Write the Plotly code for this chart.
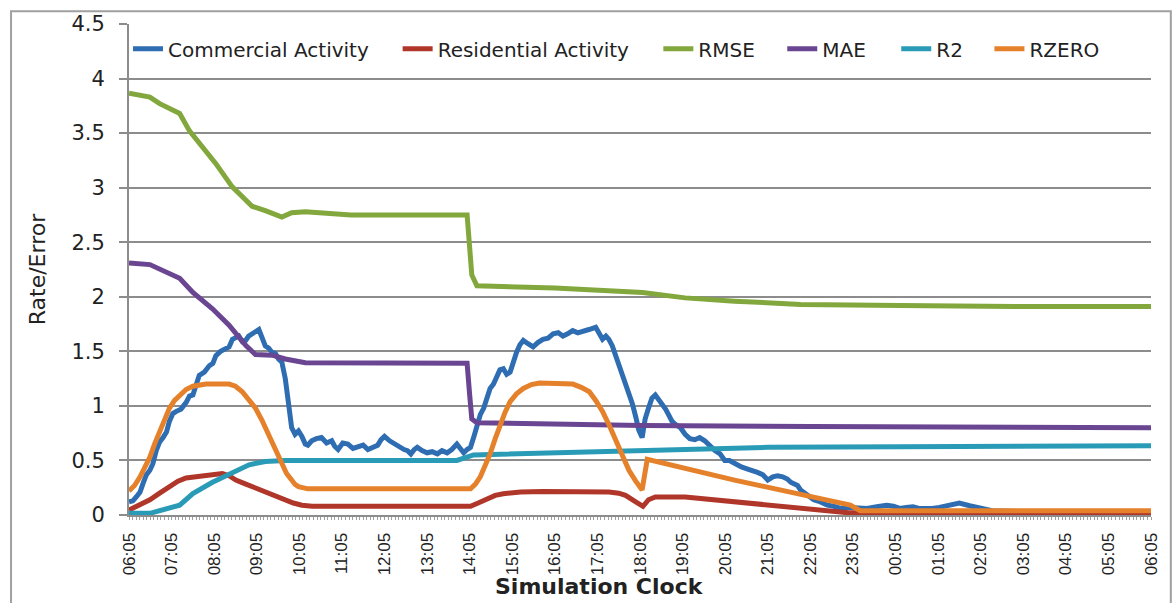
import plotly.graph_objects as go

# Hourly tick labels along the simulation clock (hours after 06:05)
hour_ticks = list(range(25))
hour_labels = ["06:05", "07:05", "08:05", "09:05", "10:05", "11:05", "12:05", "13:05",
               "14:05", "15:05", "16:05", "17:05", "18:05", "19:05", "20:05", "21:05",
               "22:05", "23:05", "00:05", "01:05", "02:05", "03:05", "04:05", "05:05", "06:05"]

y_ticks = [0, 0.5, 1, 1.5, 2, 2.5, 3, 3.5, 4, 4.5]
y_labels = ["0", "0.5", "1", "1.5", "2", "2.5", "3", "3.5", "4", "4.5"]

# Commercial Activity
commercial_t = [0.0, 0.09, 0.18, 0.26, 0.33, 0.41, 0.49, 0.56, 0.64, 0.72,
                0.8, 0.88, 0.95, 1.03, 1.11, 1.22, 1.34, 1.42, 1.5, 1.58,
                1.65, 1.77, 1.89, 1.97, 2.04, 2.15, 2.27, 2.35, 2.43, 2.5,
                2.58, 2.66, 2.74, 2.81, 2.89, 2.97, 3.05, 3.12, 3.2, 3.28,
                3.36, 3.44, 3.51, 3.59, 3.67, 3.75, 3.82, 3.9, 3.98, 4.06,
                4.14, 4.2, 4.29, 4.4, 4.52, 4.64, 4.76, 4.83, 4.91, 5.02,
                5.14, 5.26, 5.38, 5.5, 5.61, 5.72, 5.84, 5.92, 6.0, 6.12,
                6.23, 6.35, 6.46, 6.54, 6.62, 6.7, 6.77, 6.88, 7.0, 7.12,
                7.24, 7.35, 7.47, 7.58, 7.7, 7.78, 7.86, 7.94, 8.02, 8.1,
                8.17, 8.25, 8.33, 8.4, 8.48, 8.56, 8.64, 8.71, 8.79, 8.87,
                8.95, 9.02, 9.1, 9.18, 9.26, 9.37, 9.49, 9.6, 9.72, 9.84,
                9.96, 10.08, 10.19, 10.3, 10.42, 10.54, 10.65, 10.8, 10.96, 11.04,
                11.12, 11.2, 11.27, 11.35, 11.43, 11.5, 11.58, 11.66, 11.74, 11.82,
                11.9, 11.97, 12.05, 12.12, 12.2, 12.28, 12.36, 12.44, 12.52, 12.6,
                12.67, 12.75, 12.83, 12.95, 13.06, 13.17, 13.29, 13.4, 13.52, 13.64,
                13.76, 13.88, 13.99, 14.1, 14.22, 14.38, 14.53, 14.65, 14.76, 14.88,
                15.0, 15.12, 15.23, 15.35, 15.46, 15.54, 15.62, 15.7, 15.77, 15.92,
                16.08, 16.24, 16.4, 16.55, 16.71, 16.85, 17.0, 17.16, 17.33, 17.56,
                17.79, 17.95, 18.1, 18.25, 18.41, 18.55, 18.7, 18.86, 19.03, 19.26,
                19.5, 19.74, 19.97, 20.12, 20.27, 21.0, 22.0, 23.0, 24.0]
commercial_v = [0.12, 0.13, 0.17, 0.21, 0.29, 0.37, 0.41, 0.47, 0.59, 0.67,
                0.71, 0.76, 0.86, 0.93, 0.95, 0.97, 1.03, 1.09, 1.10, 1.21,
                1.28, 1.31, 1.37, 1.39, 1.46, 1.50, 1.52, 1.54, 1.61, 1.63,
                1.64, 1.59, 1.60, 1.64, 1.66, 1.67, 1.70, 1.63, 1.55, 1.53,
                1.49, 1.48, 1.43, 1.40, 1.25, 1.01, 0.80, 0.74, 0.77, 0.72,
                0.65, 0.64, 0.68, 0.70, 0.71, 0.66, 0.68, 0.63, 0.60, 0.66,
                0.65, 0.61, 0.63, 0.64, 0.60, 0.62, 0.64, 0.69, 0.72, 0.68,
                0.65, 0.62, 0.60, 0.59, 0.56, 0.60, 0.62, 0.59, 0.57, 0.58,
                0.56, 0.59, 0.57, 0.60, 0.65, 0.61, 0.57, 0.60, 0.62, 0.72,
                0.83, 0.92, 0.98, 1.05, 1.16, 1.20, 1.28, 1.33, 1.34, 1.29,
                1.31, 1.40, 1.49, 1.56, 1.60, 1.57, 1.54, 1.58, 1.61, 1.62,
                1.66, 1.67, 1.64, 1.66, 1.69, 1.67, 1.68, 1.70, 1.72, 1.66,
                1.61, 1.64, 1.61, 1.55, 1.46, 1.39, 1.28, 1.22, 1.13, 1.02,
                0.90, 0.78, 0.71, 0.88, 0.98, 1.07, 1.10, 1.06, 1.01, 0.97,
                0.92, 0.86, 0.83, 0.80, 0.74, 0.70, 0.69, 0.71, 0.68, 0.63,
                0.59, 0.56, 0.50, 0.50, 0.47, 0.44, 0.42, 0.41, 0.39, 0.37,
                0.32, 0.35, 0.36, 0.35, 0.33, 0.30, 0.29, 0.27, 0.23, 0.18,
                0.14, 0.12, 0.09, 0.08, 0.06, 0.07, 0.07, 0.065, 0.06, 0.075,
                0.09, 0.08, 0.06, 0.07, 0.075, 0.06, 0.055, 0.06, 0.07, 0.09,
                0.11, 0.085, 0.065, 0.05, 0.04, 0.03, 0.03, 0.03, 0.03]

# Residential Activity
residential_t = [0, 0.25, 0.49, 0.72, 0.95, 1.15, 1.34, 1.6, 1.81, 2.0,
                 2.19, 2.35, 2.51, 2.7, 2.89, 3.08, 3.28, 3.47, 3.67, 3.86,
                 4.06, 4.3, 5.0, 6.0, 7.0, 8.02, 8.2, 8.4, 8.6, 8.79,
                 9.2, 9.72, 10.5, 11.27, 11.5, 11.66, 11.9, 12.07, 12.2, 12.36,
                 13.06, 14.22, 15.39, 16.16, 16.9, 18.0, 20.0, 22.0, 24.0]
residential_v = [0.045, 0.09, 0.14, 0.20, 0.26, 0.31, 0.34, 0.35, 0.36, 0.37,
                 0.38, 0.36, 0.32, 0.29, 0.26, 0.24, 0.21, 0.18, 0.14, 0.11,
                 0.09, 0.08, 0.08, 0.08, 0.08, 0.08, 0.11, 0.15, 0.18, 0.195,
                 0.21, 0.215, 0.215, 0.21, 0.20, 0.18, 0.12, 0.08, 0.14, 0.165,
                 0.165, 0.12, 0.075, 0.04, 0.02, 0.02, 0.02, 0.02, 0.02]

# RMSE
rmse_t = [0, 0.49, 0.72, 1.19, 1.42, 1.72, 2.04, 2.42, 2.89, 3.2,
          3.59, 3.82, 4.14, 5.21, 6.5, 7.94, 8.0, 8.05, 8.17, 10.0,
          12.06, 13.06, 14.22, 15.77, 18.1, 20.8, 24]
rmse_v = [3.865, 3.83, 3.77, 3.68, 3.52, 3.37, 3.22, 3.01, 2.83, 2.79,
          2.73, 2.77, 2.78, 2.75, 2.75, 2.75, 2.45, 2.20, 2.10, 2.08,
          2.04, 1.99, 1.96, 1.93, 1.92, 1.91, 1.91]

# MAE
mae_t = [0, 0.49, 1.19, 1.5, 1.96, 2.35, 2.74, 2.97, 3.36, 3.67,
         4.14, 6.0, 7.94, 8.0, 8.05, 8.17, 12.05, 16.0, 20.0, 24]
mae_v = [2.31, 2.295, 2.17, 2.04, 1.89, 1.74, 1.555, 1.47, 1.465, 1.43,
         1.395, 1.395, 1.39, 1.1, 0.88, 0.845, 0.82, 0.81, 0.80, 0.80]

# R2
r2_t = [0, 0.49, 1.19, 1.5, 1.96, 2.43, 2.82, 3.2, 3.67, 6.0,
        7.7, 8.09, 12.05, 15.0, 18.1, 19.8, 19.9, 24]
r2_v = [0.015, 0.015, 0.09, 0.197, 0.30, 0.39, 0.46, 0.49, 0.50, 0.50,
        0.50, 0.55, 0.59, 0.62, 0.625, 0.625, 0.635, 0.635]

# RZERO
rzero_t = [0, 0.13, 0.26, 0.37, 0.49, 0.6, 0.72, 0.84, 0.95, 1.07,
           1.19, 1.34, 1.5, 1.65, 1.81, 2.35, 2.5, 2.66, 2.82, 2.97,
           3.12, 3.28, 3.44, 3.59, 3.7, 3.82, 3.9, 3.98, 4.1, 4.2,
           8.02, 8.13, 8.25, 8.36, 8.48, 8.6, 8.71, 8.83, 8.95, 9.1,
           9.26, 9.45, 9.64, 10.42, 10.62, 10.81, 10.96, 11.12, 11.28, 11.43,
           11.58, 11.74, 11.9, 12.05, 12.17, 14.22, 16.94, 17.17, 24]
rzero_v = [0.22, 0.27, 0.35, 0.43, 0.53, 0.65, 0.77, 0.88, 0.98, 1.05,
           1.10, 1.15, 1.18, 1.195, 1.20, 1.20, 1.18, 1.13, 1.06, 0.98,
           0.87, 0.74, 0.60, 0.47, 0.38, 0.32, 0.28, 0.26, 0.245, 0.24,
           0.24, 0.28, 0.35, 0.45, 0.56, 0.70, 0.83, 0.94, 1.04, 1.11,
           1.16, 1.195, 1.21, 1.20, 1.17, 1.13, 1.05, 0.95, 0.82, 0.68,
           0.54, 0.41, 0.31, 0.23, 0.51, 0.32, 0.09, 0.04, 0.04]

series = [
    ("Commercial Activity", commercial_t, commercial_v, "#2E6DB2", "legend", 133),
    ("Residential Activity", residential_t, residential_v, "#B0362A", "legend2", 405),
    ("RMSE", rmse_t, rmse_v, "#82A73C", "legend3", 668),
    ("MAE", mae_t, mae_v, "#6A4592", "legend4", 793),
    ("R2", r2_t, r2_v, "#2A9BB6", "legend5", 908),
    ("RZERO", rzero_t, rzero_v, "#E5812B", "legend6", 1002),
]

W, H = 1173, 603
ML, MR, MT, MB = 129, 13, 18, 88
PW = W - ML - MR
PH = H - MT - MB


def px_x(px):
    return (px - ML) / PW


def px_y(py):
    return (H - MB - py) / PH


fig = go.Figure()
text_font = "DejaVu Sans, Liberation Sans, sans-serif"
legends = {}
for name, t, v, color, leg, lx in series:
    fig.add_trace(go.Scatter(x=t, y=v, name=name, mode="lines",
                             line=dict(color=color, width=5),
                             legend=leg))
    legends[leg] = dict(
        x=px_x(lx - 5), y=px_y(43), xanchor="left", yanchor="middle",
        orientation="h", bgcolor="rgba(0,0,0,0)", borderwidth=0,
        font=dict(family=text_font, size=20, color="#222222"),
        itemwidth=30,
    )

fig.update_layout(
    width=W, height=H,
    margin=dict(l=ML, r=MR, t=MT, b=MB),
    paper_bgcolor="white", plot_bgcolor="white",
    font=dict(family=text_font, color="#222222"),
    showlegend=True,
    **legends,
)

fig.update_xaxes(
    range=[0, 24],
    tickmode="array", tickvals=hour_ticks, ticktext=hour_labels,
    tickangle=-90,
    tickfont=dict(family="Liberation Sans Narrow, Liberation Sans, sans-serif", size=17, color="#222222"),
    showgrid=False, zeroline=False,
    showline=True, linecolor="#8c8c8c", linewidth=2,
    ticks="", ticklabelstandoff=9,
    minor=dict(ticks="outside", dtick=1 / 12, tick0=0, ticklen=3, tickwidth=1, tickcolor="#a0a0a0"),
)

fig.update_yaxes(
    range=[0, 4.5],
    tickmode="array", tickvals=y_ticks, ticktext=y_labels,
    tickfont=dict(family=text_font, size=21, color="#222222"),
    showgrid=True, gridcolor="#8c8c8c", gridwidth=1.5,
    zeroline=False,
    showline=True, linecolor="#8c8c8c", linewidth=2,
    ticks="outside", ticklen=8, tickcolor="#8c8c8c", tickwidth=1.5,
    ticklabelstandoff=10,
    title=dict(text="Rate/Error", standoff=20,
               font=dict(family=text_font, size=22, color="#222222")),
)

# Horizontal axis title, centred under the chart area
fig.add_annotation(text="<b>Simulation Clock</b>", xref="paper", yref="paper",
                   x=px_x(604), y=px_y(587), xanchor="center", yanchor="middle",
                   showarrow=False,
                   font=dict(family=text_font, size=22, color="#222222"))

# Outer chart border
fig.add_shape(type="rect", xref="paper", yref="paper",
              x0=px_x(10), x1=px_x(1180), y0=px_y(615), y1=px_y(5),
              line=dict(color="#a0a0a0", width=2), fillcolor="rgba(0,0,0,0)",
              layer="below")

fig.write_html("out.html")
